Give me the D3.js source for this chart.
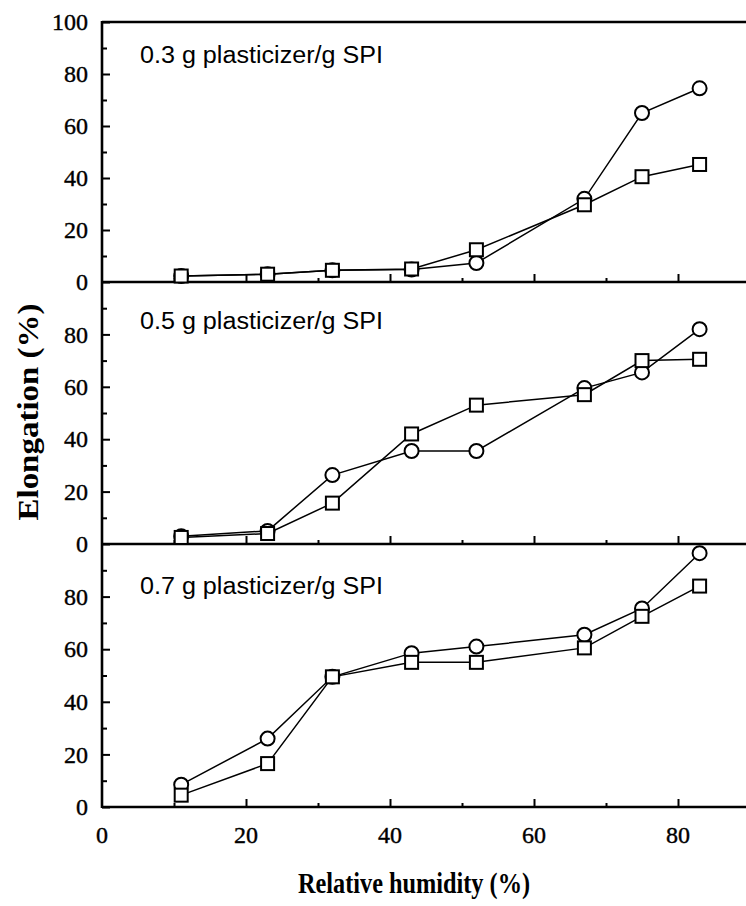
<!DOCTYPE html>
<html>
<head>
<meta charset="utf-8">
<script src="https://cdn.jsdelivr.net/npm/d3@7/dist/d3.min.js"></script>
<style>
  html, body { margin: 0; padding: 0; background: #fff; }
  svg { display: block; }
</style>
</head>
<body>
<div id="chart"></div>
<script>
// ---- data ----
const relativeHumidity = [11, 23, 32, 43, 52, 67, 75, 83];
const panelLabels = ["0.3 g plasticizer/g SPI", "0.5 g plasticizer/g SPI", "0.7 g plasticizer/g SPI"];
const circle03 = [2.3, 3, 4.5, 4.8, 7.3, 32, 65, 74.5];
const square03 = [2.3, 3, 4.5, 5, 12.4, 29.7, 40.5, 45.2];
const circle05 = [3, 5, 26.3, 35.5, 35.5, 59.5, 65.5, 82];
const square05 = [2.5, 4, 15.6, 42, 53, 57, 70, 70.5];
const circle07 = [8.5, 26, 49.5, 58.5, 61, 65.5, 75.5, 96.5];
const square07 = [4.5, 16.5, 49.5, 55, 55, 60.5, 72.5, 84];
const xTickValues = [0, 20, 40, 60, 80];
const xMinorTicks = [10, 30, 50, 70];
const yTicksTop = [0, 20, 40, 60, 80, 100];
const yTicksOther = [0, 20, 40, 60, 80];
const yMinorTicks = [10, 30, 50, 70, 90];
const xTitle = "Relative humidity (%)";
const yTitle = "Elongation (%)";

const panels = [
  { label: panelLabels[0], circle: circle03, square: square03, yTicks: yTicksTop },
  { label: panelLabels[1], circle: circle05, square: square05, yTicks: yTicksOther },
  { label: panelLabels[2], circle: circle07, square: square07, yTicks: yTicksOther }
];

// ---- layout ----
const W = 746, H = 906;
const left = 102;
const panelTops = [22, 282, 544];
const panelBottoms = [282, 544, 807];
const labelBaselines = [63, 329, 594];

const svg = d3.select("#chart").append("svg").attr("width", W).attr("height", H);
const x = d3.scaleLinear().domain([0, 90]).range([left, left + 90 * 7.2]);

const serif = "'Liberation Serif', 'Times New Roman', serif";
const sans = "'Liberation Sans', Arial, sans-serif";

panels.forEach((p, i) => {
  const y = d3.scaleLinear().domain([0, 100]).range([panelBottoms[i], panelTops[i]]);
  const g = svg.append("g");

  // y axis major
  const yAx = g.append("g").attr("transform", `translate(${left},0)`)
    .call(d3.axisLeft(y).tickValues(p.yTicks).tickSize(-8).tickPadding(14).tickFormat(d3.format("d")));
  yAx.select(".domain").remove();
  yAx.selectAll("line").attr("stroke", "#000").attr("stroke-width", 2);
  yAx.selectAll("text").attr("font-family", serif).attr("font-size", 24).attr("fill", "#000")
    .attr("stroke", "#000").attr("stroke-width", 0.4);
  // y axis minor
  const yMin = g.append("g").attr("transform", `translate(${left},0)`)
    .call(d3.axisLeft(y).tickValues(yMinorTicks).tickSize(-5).tickFormat(""));
  yMin.select(".domain").remove();
  yMin.selectAll("line").attr("stroke", "#000").attr("stroke-width", 2);

  // x axis major
  const xAx = g.append("g").attr("transform", `translate(0,${panelBottoms[i]})`)
    .call(d3.axisBottom(x).tickValues(xTickValues.filter(v => v > 0)).tickSize(-8).tickFormat(""));
  xAx.select(".domain").remove();
  xAx.selectAll("line").attr("stroke", "#000").attr("stroke-width", 2);
  const xMin = g.append("g").attr("transform", `translate(0,${panelBottoms[i]})`)
    .call(d3.axisBottom(x).tickValues(xMinorTicks).tickSize(-4).tickFormat(""));
  xMin.select(".domain").remove();
  xMin.selectAll("line").attr("stroke", "#000").attr("stroke-width", 2);

  // panel bottom line
  g.append("line").attr("x1", left).attr("x2", W).attr("y1", y(0)).attr("y2", y(0))
    .attr("stroke", "#000").attr("stroke-width", 2.6);

  if (i === 0) {
    g.append("line").attr("x1", left).attr("x2", W).attr("y1", y(100)).attr("y2", y(100))
      .attr("stroke", "#000").attr("stroke-width", 2.6);
  }

  // label
  g.append("text").attr("x", 140).attr("y", labelBaselines[i]).text(p.label)
    .attr("font-family", sans).attr("font-size", 23).attr("fill", "#000")
    .attr("textLength", 243).attr("lengthAdjust", "spacingAndGlyphs");

  const line = d3.line().x((d, k) => x(relativeHumidity[k])).y(d => y(d));

  // circle series
  g.append("path").datum(p.circle).attr("d", line).attr("fill", "none")
    .attr("stroke", "#000").attr("stroke-width", 1.5);
  g.selectAll(".c").data(p.circle).enter().append("circle")
    .attr("cx", (d, k) => x(relativeHumidity[k])).attr("cy", d => y(d)).attr("r", 7)
    .attr("fill", "#fff").attr("stroke", "#000").attr("stroke-width", 2);

  // square series
  g.append("path").datum(p.square).attr("d", line).attr("fill", "none")
    .attr("stroke", "#000").attr("stroke-width", 1.5);
  g.selectAll(".s").data(p.square).enter().append("rect")
    .attr("x", (d, k) => x(relativeHumidity[k]) - 6.5).attr("y", d => y(d) - 6.5)
    .attr("width", 13).attr("height", 13)
    .attr("fill", "#fff").attr("stroke", "#000").attr("stroke-width", 2);
});

// left axis line
svg.append("line").attr("x1", left).attr("x2", left).attr("y1", panelTops[0] - 1).attr("y2", panelBottoms[2] + 1)
  .attr("stroke", "#000").attr("stroke-width", 2.6);

// x tick labels
svg.append("g").selectAll("text").data(xTickValues).enter().append("text")
  .attr("x", d => x(d)).attr("y", 843).attr("text-anchor", "middle").text(d => d)
  .attr("font-family", serif).attr("font-size", 24).attr("fill", "#000")
  .attr("stroke", "#000").attr("stroke-width", 0.4);

// axis titles
svg.append("text").attr("x", 414).attr("y", 893).attr("text-anchor", "middle").text(xTitle)
  .attr("font-family", serif).attr("font-weight", "bold").attr("font-size", 30)
  .attr("textLength", 232).attr("lengthAdjust", "spacingAndGlyphs").attr("fill", "#000");

svg.append("text").attr("transform", "translate(38,412) rotate(-90)").attr("text-anchor", "middle").text(yTitle)
  .attr("font-family", serif).attr("font-weight", "bold").attr("font-size", 30)
  .attr("textLength", 217).attr("lengthAdjust", "spacingAndGlyphs").attr("fill", "#000");
</script>
</body>
</html>
